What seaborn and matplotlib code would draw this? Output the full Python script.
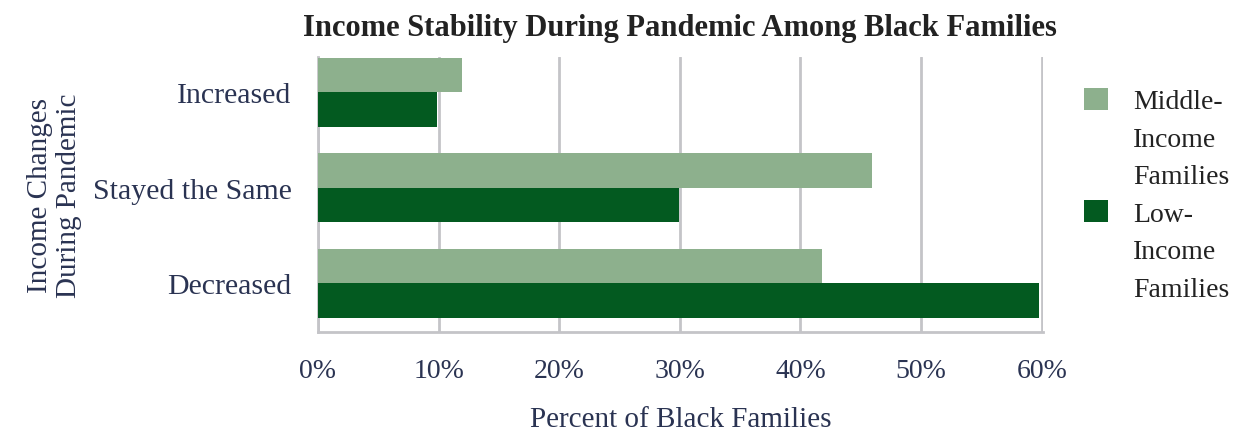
import pandas as pd
import matplotlib.pyplot as plt
import seaborn as sns
from matplotlib.patches import Patch

# chart data
categories = ["Increased", "Stayed the Same", "Decreased"]
groups = ["Middle-Income Families", "Low-Income Families"]
legend_lines = [["Middle-", "Income", "Families"], ["Low-", "Income", "Families"]]
middle_income = [11.9, 45.9, 41.8]
low_income = [9.9, 29.9, 59.8]
x_ticks = [0, 10, 20, 30, 40, 50, 60]
colors = ["#8db08d", "#035a20"]

df = pd.DataFrame({
    "change": categories * 2,
    "group": [groups[0]] * 3 + [groups[1]] * 3,
    "pct": middle_income + low_income,
})

sns.set_style("white")
plt.rcParams["font.family"] = ["Liberation Serif", "DejaVu Serif"]

navy = "#2a3352"
grid_c = "#c4c4c8"

fig = plt.figure(figsize=(12.48, 4.35), dpi=100)
ax = fig.add_axes([0.2548, 0.2345, 0.5809, 0.6322])

sns.barplot(data=df, y="change", x="pct", hue="group", orient="h",
            palette=colors, width=0.72, saturation=1, linewidth=0,
            ax=ax, zorder=3)

ax.set_xlim(0, 60.1)
ax.set_ylim(2.51, -0.37)
ax.set_xticks(x_ticks)
ax.set_xticklabels([f"{t}%" for t in x_ticks], fontsize=20, color=navy)
ax.tick_params(axis="y", labelsize=21.5, labelcolor=navy, length=0, pad=19)
ax.tick_params(axis="x", length=0, pad=19)
ax.xaxis.grid(True, color=grid_c, linewidth=2.0, zorder=0)
ax.set_axisbelow(True)

for s in ["top", "right"]:
    ax.spines[s].set_visible(False)
for s in ["left", "bottom"]:
    ax.spines[s].set_color(grid_c)
    ax.spines[s].set_linewidth(2.0)

ax.set_xlabel("Percent of Black Families", fontsize=21, color=navy, labelpad=16)
ax.set_ylabel("Income Changes\nDuring Pandemic", fontsize=21, color=navy,
              labelpad=8, linespacing=1.15)

fig.text(0.545, 0.935, "Income Stability During Pandemic Among Black Families",
         ha="center", va="center", fontsize=22, fontweight="bold", color="#222222")

# legend: one swatch per group, next to the first line of its label
handles, labels = [], []
for c, lines in zip(colors, legend_lines):
    for i, line in enumerate(lines):
        handles.append(Patch(facecolor=c if i == 0 else "none", edgecolor="none"))
        labels.append(line)
ax.legend(handles, labels, loc="upper left", bbox_to_anchor=(0.860, 0.822),
          bbox_transform=fig.transFigure, frameon=False, fontsize=20,
          handlelength=0.85, handleheight=0.85, handletextpad=0.9,
          labelspacing=0.39, labelcolor="#222222", borderaxespad=0)

fig.savefig("out.png", dpi=100)
